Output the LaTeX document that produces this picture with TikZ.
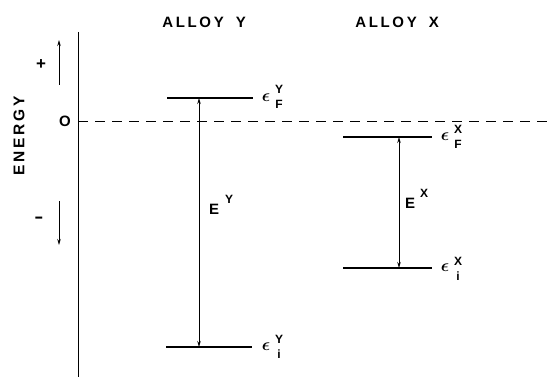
\documentclass[tikz,border=0pt]{standalone}
\usepackage{fontspec}
\setmainfont{Liberation Sans}
\newfontfamily\spaced[LetterSpace=18]{Liberation Sans Bold}
\usetikzlibrary{arrows.meta}
\tikzset{
  lbl/.style={inner sep=0pt, font=\fontsize{15}{15}\selectfont\spaced},
  small/.style={inner sep=0pt, font=\fontsize{12}{12}\selectfont\spaced},
  eps/.style={inner sep=0pt, font=\fontsize{18}{18}\selectfont\boldmath},
  level/.style={line width=1.5pt},
  thin/.style={line width=0.8pt},
  tip/.style={-{Stealth[length=6pt,width=3.5pt]}},
  tips/.style={{Stealth[length=6pt,width=3.5pt]}-{Stealth[length=6pt,width=3.5pt]}}
}
\begin{document}
\begin{tikzpicture}[x=1pt,y=-1pt]
\useasboundingbox (0,0) rectangle (551,377);
% axes
\coordinate (axtop) at (78,32);
\coordinate (axbot) at (78,377);
\coordinate (zl) at (78,121);
\coordinate (zr) at (551,121);
\draw[thin] (axtop) -- (axbot);
\draw[thin, dash pattern=on 10pt off 7pt] (zl) -- (zr);
% axis labels
\node[lbl, rotate=90, font=\fontsize{15.5}{15.5}\selectfont\spaced] (energy) at (19,136) {ENERGY};
\node[lbl] (zero) at (65,121) {O};
\node[lbl, font=\fontsize{17}{17}\selectfont\spaced] (plus) at (41,65) {+};
\node[lbl, font=\fontsize{17}{17}\selectfont\spaced, xscale=1.6] (minus) at (39,220) {-};
\coordinate (up1) at (59,85);
\coordinate (up2) at (59,40);
\coordinate (dn1) at (59,201);
\coordinate (dn2) at (59,245);
\draw[thin, tip] (up1) -- (up2);
\draw[thin, tip] (dn1) -- (dn2);
% titles
\node[lbl] (ty) at (204,22) {ALLOY\hspace{5pt} Y};
\node[lbl] (tx) at (397,22) {ALLOY\hspace{5pt} X};
% alloy Y levels
\coordinate (yFl) at (167,98);
\coordinate (yFr) at (253,98);
\coordinate (yil) at (166,347);
\coordinate (yir) at (252,347);
\coordinate (yFa) at (199,98);
\coordinate (yia) at (199,347);
\draw[level] (yFl) -- (yFr);
\draw[level] (yil) -- (yir);
\draw[thin, tips] (yia) -- (yFa);
\node[lbl] (EY) at (214,209) {E};
\node[small] (EYs) at (229,199) {Y};
\node[eps] (epsYF) at (266,98) {$\epsilon$};
\node[small] (YF1) at (279,89) {Y};
\node[small] (YF2) at (279,104) {F};
\node[eps] (epsYi) at (266,347) {$\epsilon$};
\node[small] (Yi1) at (279,339) {Y};
\node[small] (Yi2) at (279,354) {i};
% alloy X levels
\coordinate (xFl) at (343,137);
\coordinate (xFr) at (432,137);
\coordinate (xil) at (343,268);
\coordinate (xir) at (432,268);
\coordinate (xFa) at (399,137);
\coordinate (xia) at (399,268);
\draw[level] (xFl) -- (xFr);
\draw[level] (xil) -- (xir);
\draw[thin, tips] (xia) -- (xFa);
\node[lbl] (EX) at (410,203) {E};
\node[small] (EXs) at (424,193) {X};
\node[eps] (epsXF) at (445,137) {$\epsilon$};
\node[small] (XF1) at (458,129) {X};
\node[small] (XF2) at (458,144) {F};
\node[eps] (epsXi) at (445,268) {$\epsilon$};
\node[small] (Xi1) at (458,261) {X};
\node[small] (Xi2) at (458,276) {i};
\end{tikzpicture}
\end{document}
